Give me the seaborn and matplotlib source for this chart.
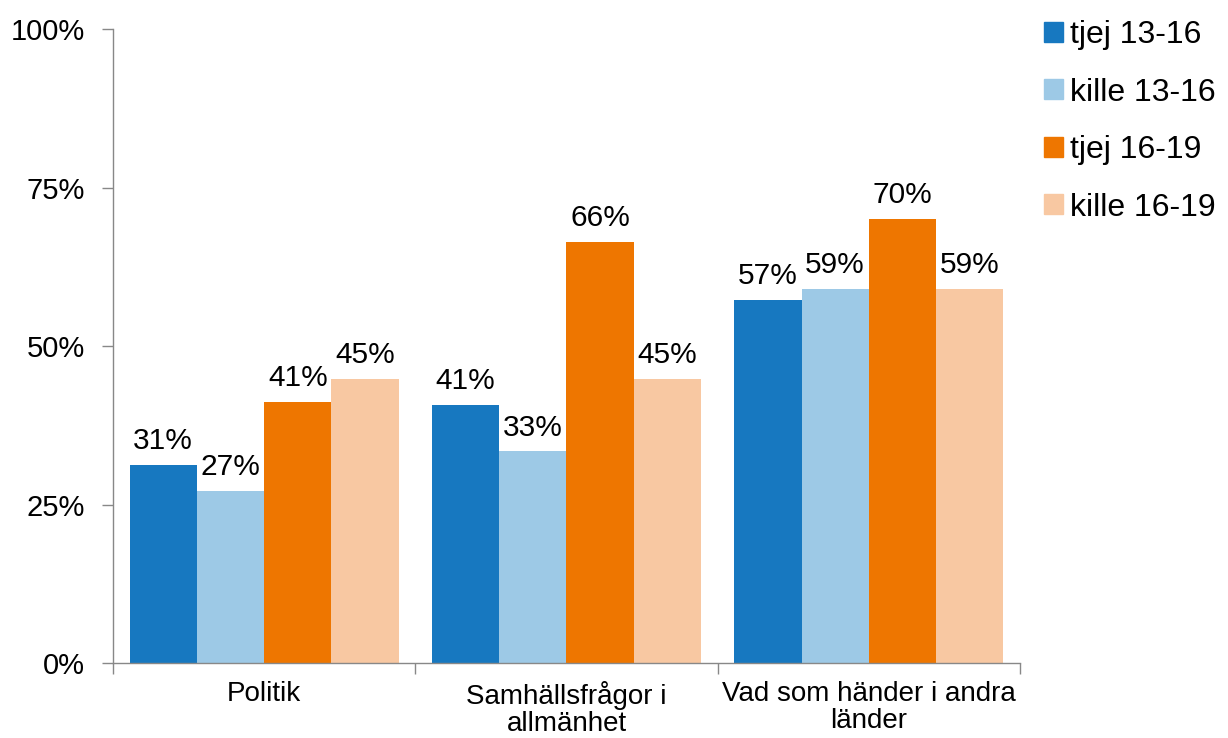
import pandas as pd
import matplotlib.pyplot as plt
import seaborn as sns
from matplotlib.ticker import FuncFormatter

# categories and groups
categories = ['Politik', 'Samhällsfrågor i\nallmänhet', 'Vad som händer i andra\nländer']
groups = ['tjej 13-16', 'kille 13-16', 'tjej 16-19', 'kille 16-19']

# share per group
tjej_13_16 = [0.312, 0.407, 0.573]
kille_13_16 = [0.271, 0.334, 0.590]
tjej_16_19 = [0.412, 0.664, 0.700]
kille_16_19 = [0.448, 0.448, 0.590]

colors = ['#1778C0', '#9DC9E6', '#EE7600', '#F8C8A2']

# long format for seaborn
rows = []
for g, vals in zip(groups, [tjej_13_16, kille_13_16, tjej_16_19, kille_16_19]):
    for c, v in zip(categories, vals):
        rows.append({'category': c, 'group': g, 'value': v})
df = pd.DataFrame(rows)

sns.set_style('white')
plt.rcParams['font.family'] = ['Liberation Sans', 'DejaVu Sans']

fig = plt.figure(figsize=(12.28, 7.38), dpi=100)
ax = fig.add_axes([0.092, 0.1016, 0.7386, 0.8591])

sns.barplot(data=df, x='category', y='value', hue='group', order=categories,
            hue_order=groups, palette=colors, width=0.89, gap=0,
            linewidth=0, saturation=1, ax=ax, legend=False)

# value labels above bars
for cont in ax.containers:
    ax.bar_label(cont, labels=[f'{round(b.get_height() * 100)}%' for b in cont],
                 padding=7, fontsize=21.5, color='black')

ax.set_ylim(0, 1)
ax.set_xlim(-0.5, 2.5)
ax.set_yticks([0, 0.25, 0.5, 0.75, 1.0])
ax.yaxis.set_major_formatter(FuncFormatter(lambda v, p: f'{round(v * 100)}%'))
ax.tick_params(axis='y', labelsize=21, labelcolor='black', length=8, width=1,
               color='#888888', pad=12, left=True)
ax.tick_params(axis='x', labelsize=20, labelcolor='black', length=0, pad=13)
ax.set_xticks(range(len(categories)))
ax.set_xticklabels(categories, linespacing=1.05)
ax.set_xticks([-0.5, 0.5, 1.5, 2.5], minor=True)
ax.tick_params(axis='x', which='minor', length=8, width=1, color='#888888', bottom=True)
ax.set_xlabel('')
ax.set_ylabel('')

sns.despine(ax=ax)
for s in ['left', 'bottom']:
    ax.spines[s].set_color('#888888')
    ax.spines[s].set_linewidth(1)

# legend at right side
handles = [plt.Rectangle((0, 0), 1, 1, color=c) for c in colors]
leg = fig.legend(handles, groups, loc='upper left', bbox_to_anchor=(0.84, 0.99),
                 frameon=False, fontsize=23, handlelength=0.58, handleheight=0.58,
                 handletextpad=0.22, labelspacing=0.86, borderaxespad=0)
for t in leg.get_texts():
    t.set_color('black')

fig.savefig('out.png', dpi=100)
